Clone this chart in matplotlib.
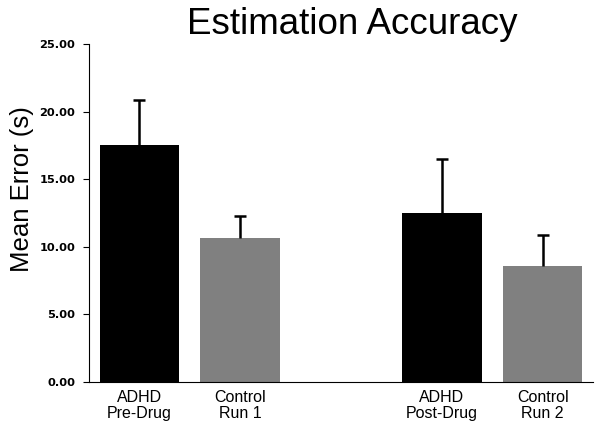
import numpy as np
import matplotlib
matplotlib.use("Agg")
import matplotlib.pyplot as plt

plt.rcParams['font.family'] = ['Liberation Sans', 'DejaVu Sans']

labels = ["ADHD\nPre-Drug", "Control\nRun 1", "ADHD\nPost-Drug", "Control\nRun 2"]
positions = [0, 1, 3, 4]
means = [17.5, 10.67, 12.52, 8.6]
errors = [3.37, 1.63, 3.97, 2.29]
colors = ["#000000", "#808080", "#000000", "#808080"]
yticks = [0, 5, 10, 15, 20, 25]

fig = plt.figure(figsize=(6.02, 4.32), dpi=100)
ax = fig.add_axes([0.148, 0.116, 0.837, 0.782])

ax.bar(positions, means, width=0.79, color=colors, zorder=2)
eb = ax.errorbar(positions, means, yerr=[np.zeros(len(errors)), errors],
                 fmt='none', ecolor='black', elinewidth=1.8, capsize=4,
                 capthick=1.8, zorder=3)
# only the upper cap is wanted
for cap in eb[1]:
    if np.allclose(cap.get_ydata(), means):
        cap.set_visible(False)

ax.set_xlim(-0.5, 4.5)
ax.set_ylim(0, 25)
ax.set_yticks(yticks)
ax.set_yticklabels(["%.2f" % t for t in yticks], fontsize=8.2,
                   fontweight='bold', family='DejaVu Sans')
ax.set_xticks(positions)
ax.set_xticklabels(labels, fontsize=11.5, linespacing=1.08)
ax.tick_params(axis='x', length=0, pad=6)
ax.tick_params(axis='y', direction='out', length=4, width=0.8, pad=6)

for s in ['top', 'right']:
    ax.spines[s].set_visible(False)
ax.spines['left'].set_linewidth(0.8)
ax.spines['bottom'].set_linewidth(0.8)

ax.set_ylabel("Mean Error (s)", fontsize=18.5)
ax.yaxis.set_label_coords(-0.109, 0.571)
fig.text(0.585, 0.922, "Estimation Accuracy", fontsize=26.5,
         ha='center', va='baseline')

fig.savefig("out.png", dpi=100)
